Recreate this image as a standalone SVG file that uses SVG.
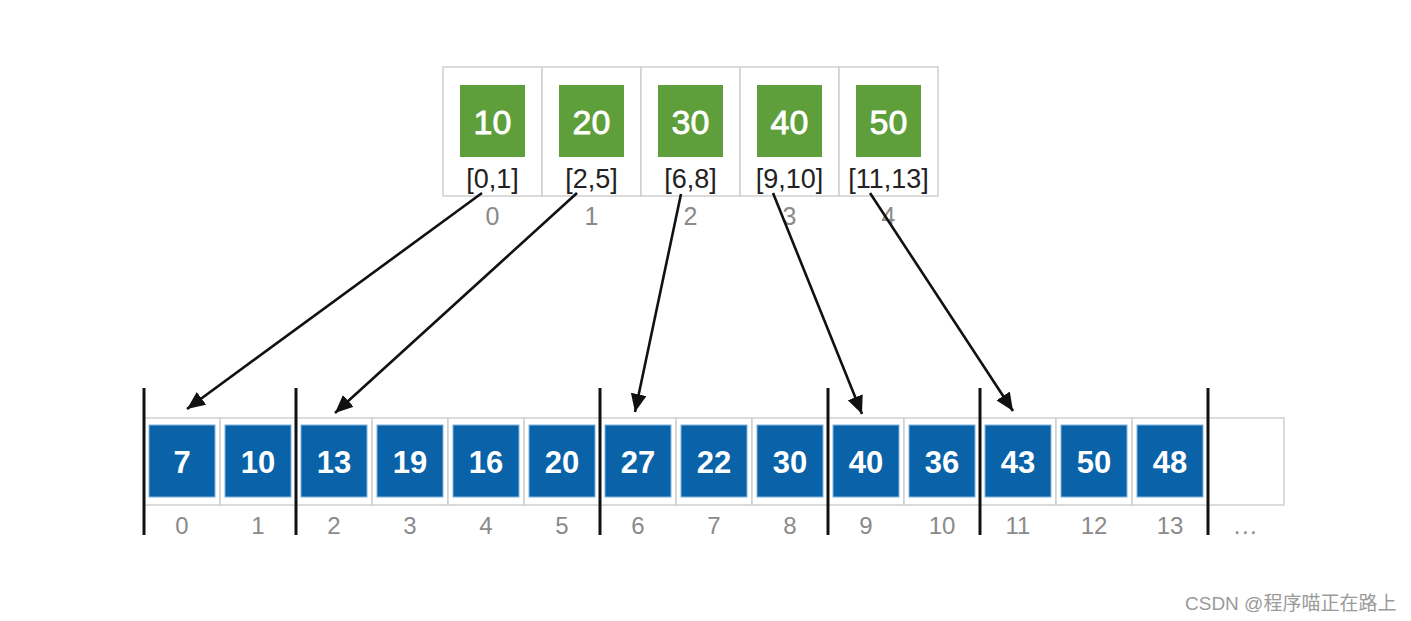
<svg xmlns="http://www.w3.org/2000/svg" width="1411" height="621" viewBox="0 0 1411 621">
<defs>
<style>
.cell{fill:#fff;stroke:#cfcfcf;stroke-width:1.5}
.g{fill:#5f9f3b}
.b{fill:#0a63a8;stroke:#7fb4dc;stroke-width:1}
.gt{font-family:"Liberation Sans",Arial,sans-serif;font-size:34px;fill:#fff;stroke:#fff;stroke-width:0.8;text-anchor:middle}
.bt{font-family:"Liberation Sans",Arial,sans-serif;font-size:31px;font-weight:bold;fill:#fff;text-anchor:middle}
.rt{font-family:"Liberation Sans",Arial,sans-serif;font-size:27px;fill:#222;text-anchor:middle}
.it{font-family:"Liberation Sans",Arial,sans-serif;font-size:25px;fill:#8a8a8a;text-anchor:middle}
.bi{font-family:"Liberation Sans",Arial,sans-serif;font-size:24px;fill:#8a8a8a;text-anchor:middle}
.sep{stroke:#111;stroke-width:3}
.arr{stroke:#111;stroke-width:2.6;fill:none;marker-end:url(#ah)}
</style>
<marker id="ah" markerUnits="userSpaceOnUse" markerWidth="20" markerHeight="16" refX="18" refY="8" orient="auto">
<path d="M0,0 L18,8 L0,16 z" fill="#111"/>
</marker>
</defs>
<rect width="1411" height="621" fill="#fff"/>

<g id="top-array">
<rect class="cell" x="443" y="67" width="99" height="129"/>
<rect class="cell" x="542" y="67" width="99" height="129"/>
<rect class="cell" x="641" y="67" width="99" height="129"/>
<rect class="cell" x="740" y="67" width="99" height="129"/>
<rect class="cell" x="839" y="67" width="99" height="129"/>
</g>
<g id="t0"><rect class="g" x="460" y="85" width="65" height="72"/><text class="gt" x="492.5" y="134">10</text><text class="rt" x="492.5" y="188">[0,1]</text><text class="it" x="492.5" y="225">0</text></g>
<g id="t1"><rect class="g" x="559" y="85" width="65" height="72"/><text class="gt" x="591.5" y="134">20</text><text class="rt" x="591.5" y="188">[2,5]</text><text class="it" x="591.5" y="225">1</text></g>
<g id="t2"><rect class="g" x="658" y="85" width="65" height="72"/><text class="gt" x="690.5" y="134">30</text><text class="rt" x="690.5" y="188">[6,8]</text><text class="it" x="690.5" y="225">2</text></g>
<g id="t3"><rect class="g" x="757" y="85" width="65" height="72"/><text class="gt" x="789.5" y="134">40</text><text class="rt" x="789.5" y="188">[9,10]</text><text class="it" x="789.5" y="225">3</text></g>
<g id="t4"><rect class="g" x="856" y="85" width="65" height="72"/><text class="gt" x="888.5" y="134">50</text><text class="rt" x="888.5" y="188">[11,13]</text><text class="it" x="888.5" y="225">4</text></g>

<g id="bottom-array">
<rect class="cell" x="144" y="418" width="76" height="87"/>
<rect class="cell" x="220" y="418" width="76" height="87"/>
<rect class="cell" x="296" y="418" width="76" height="87"/>
<rect class="cell" x="372" y="418" width="76" height="87"/>
<rect class="cell" x="448" y="418" width="76" height="87"/>
<rect class="cell" x="524" y="418" width="76" height="87"/>
<rect class="cell" x="600" y="418" width="76" height="87"/>
<rect class="cell" x="676" y="418" width="76" height="87"/>
<rect class="cell" x="752" y="418" width="76" height="87"/>
<rect class="cell" x="828" y="418" width="76" height="87"/>
<rect class="cell" x="904" y="418" width="76" height="87"/>
<rect class="cell" x="980" y="418" width="76" height="87"/>
<rect class="cell" x="1056" y="418" width="76" height="87"/>
<rect class="cell" x="1132" y="418" width="76" height="87"/>
<rect class="cell" x="1208" y="418" width="76" height="87"/>
</g>
<g id="b0"><rect class="b" x="149" y="425" width="66" height="72"/><text class="bt" x="182" y="473">7</text><text class="bi" x="182" y="534">0</text></g>
<g id="b1"><rect class="b" x="225" y="425" width="66" height="72"/><text class="bt" x="258" y="473">10</text><text class="bi" x="258" y="534">1</text></g>
<g id="b2"><rect class="b" x="301" y="425" width="66" height="72"/><text class="bt" x="334" y="473">13</text><text class="bi" x="334" y="534">2</text></g>
<g id="b3"><rect class="b" x="377" y="425" width="66" height="72"/><text class="bt" x="410" y="473">19</text><text class="bi" x="410" y="534">3</text></g>
<g id="b4"><rect class="b" x="453" y="425" width="66" height="72"/><text class="bt" x="486" y="473">16</text><text class="bi" x="486" y="534">4</text></g>
<g id="b5"><rect class="b" x="529" y="425" width="66" height="72"/><text class="bt" x="562" y="473">20</text><text class="bi" x="562" y="534">5</text></g>
<g id="b6"><rect class="b" x="605" y="425" width="66" height="72"/><text class="bt" x="638" y="473">27</text><text class="bi" x="638" y="534">6</text></g>
<g id="b7"><rect class="b" x="681" y="425" width="66" height="72"/><text class="bt" x="714" y="473">22</text><text class="bi" x="714" y="534">7</text></g>
<g id="b8"><rect class="b" x="757" y="425" width="66" height="72"/><text class="bt" x="790" y="473">30</text><text class="bi" x="790" y="534">8</text></g>
<g id="b9"><rect class="b" x="833" y="425" width="66" height="72"/><text class="bt" x="866" y="473">40</text><text class="bi" x="866" y="534">9</text></g>
<g id="b10"><rect class="b" x="909" y="425" width="66" height="72"/><text class="bt" x="942" y="473">36</text><text class="bi" x="942" y="534">10</text></g>
<g id="b11"><rect class="b" x="985" y="425" width="66" height="72"/><text class="bt" x="1018" y="473">43</text><text class="bi" x="1018" y="534">11</text></g>
<g id="b12"><rect class="b" x="1061" y="425" width="66" height="72"/><text class="bt" x="1094" y="473">50</text><text class="bi" x="1094" y="534">12</text></g>
<g id="b13"><rect class="b" x="1137" y="425" width="66" height="72"/><text class="bt" x="1170" y="473">48</text><text class="bi" x="1170" y="534">13</text></g>
<g id="ellipsis"><text class="bi" x="1246" y="534" letter-spacing="1.5">...</text></g>

<g id="separators">
<line class="sep" x1="144" y1="388" x2="144" y2="535"/>
<line class="sep" x1="296" y1="388" x2="296" y2="535"/>
<line class="sep" x1="600" y1="388" x2="600" y2="535"/>
<line class="sep" x1="828" y1="388" x2="828" y2="535"/>
<line class="sep" x1="980" y1="388" x2="980" y2="535"/>
<line class="sep" x1="1208" y1="388" x2="1208" y2="535"/>
</g>

<g id="connectors">
<line class="arr" x1="482" y1="193" x2="187" y2="409"/>
<line class="arr" x1="577" y1="193" x2="335" y2="413"/>
<line class="arr" x1="681" y1="194" x2="635" y2="412"/>
<line class="arr" x1="773" y1="193" x2="862" y2="414"/>
<line class="arr" x1="870" y1="193" x2="1013" y2="411"/>
</g>

<text x="1185" y="610" font-family="Liberation Sans, Noto Sans CJK SC, sans-serif" font-size="19" fill="#9a9a9a">CSDN @程序喵正在路上</text>
</svg>
